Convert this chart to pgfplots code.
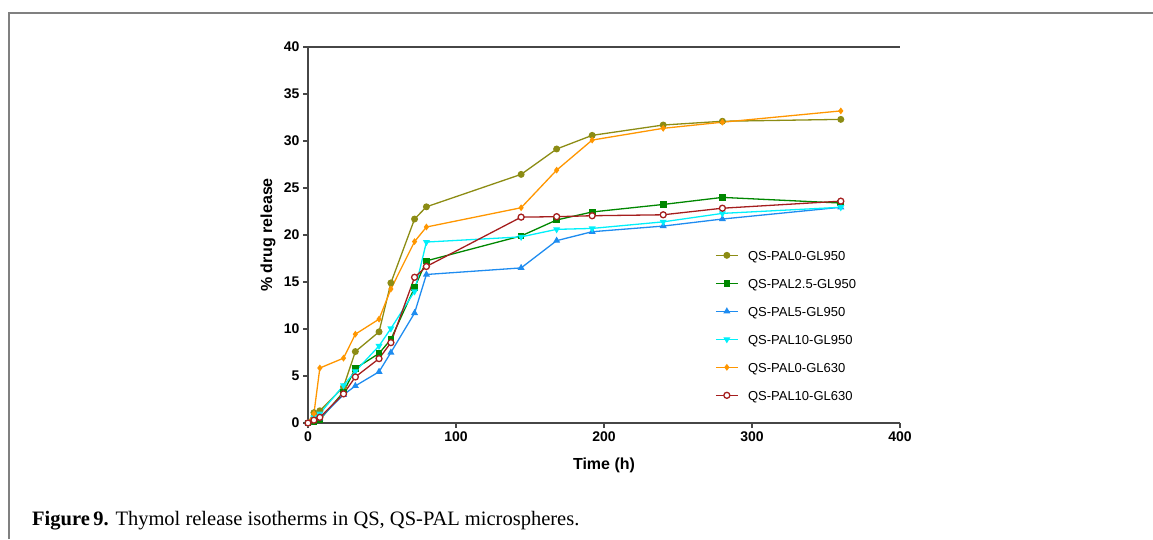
\documentclass[border=0pt]{standalone}
\usepackage{fontspec}
\setmainfont{Liberation Sans}
\newfontfamily\capfont{Liberation Serif}
\usepackage{pgfplots}
\pgfplotsset{compat=1.18}
\definecolor{cOlive}{RGB}{140,140,20}
\definecolor{cGreen}{RGB}{0,135,0}
\definecolor{cBlue}{RGB}{30,140,240}
\definecolor{cCyan}{RGB}{0,240,250}
\definecolor{cOrange}{RGB}{255,150,0}
\definecolor{cRed}{RGB}{165,30,30}
\definecolor{cAxis}{RGB}{70,70,70}
\definecolor{cFrame}{RGB}{128,128,128}
\begin{document}
\begin{tikzpicture}[x=1pt,y=1pt]
\path[use as bounding box] (0,0) rectangle (1153,539);
\draw[line width=2pt, color=cFrame] (8.7,0) -- (8.7,526) -- (1153,526);
\node[anchor=base west, inner sep=0pt] at (32,14) {\capfont\fontsize{20.5}{22}\selectfont\textbf{Figure\,9.} Thymol release isotherms in QS, QS-PAL microspheres.};
\begin{axis}[
  at={(308pt,116pt)}, anchor=south west,
  scale only axis, width=592pt, height=376pt,
  xmin=0, xmax=400, ymin=0, ymax=40,
  axis x line*=bottom, axis y line*=left,
  axis line style={line width=2pt, color=cAxis},
  xtick={0,100,200,300,400}, ytick={0,5,10,15,20,25,30,35,40},
  tick align=outside, major tick length=5pt,
  tick style={line width=1.5pt, color=cAxis},
  /pgf/number format/assume math mode=true,
  ticklabel style={font=\fontsize{14}{16}\selectfont\bfseries},
  xlabel={Time (h)}, ylabel={\% drug release},
  every axis x label/.style={at={(axis description cs:0.5,-0.1117)}, anchor=center, font=\fontsize{16}{18}\selectfont\bfseries},
  every axis y label/.style={at={(axis description cs:-0.0676,0.5)}, anchor=center, rotate=90, font=\fontsize{16}{18}\selectfont\bfseries},
  legend style={at={(rel axis cs:0.6875,0.459)}, anchor=north west, draw=none, fill=none,
    inner sep=0pt, font=\fontsize{13}{15}\selectfont, row sep=18.6pt,
    nodes={inner sep=0pt, text height=9.4pt, text depth=0pt},
    /tikz/every odd column/.append style={column sep=9.5pt}},
  legend cell align=left,
  legend image code/.code={\path[draw=none] (0pt,-4.7pt) rectangle (22pt,4.7pt);
    \draw[#1, mark repeat=2, mark phase=2] plot coordinates {(0pt,0pt) (11pt,0pt) (22pt,0pt)};},
  every axis plot/.append style={line width=1.3pt},
  clip=false,
]
\addplot[color=cOlive, mark=*, mark size=2.8pt] coordinates {
(0,0) (4,1.1) (8,1.3) (24,3.85) (32,7.6) (48,9.7) (56,14.9) (72,21.7) (80,23.0)
(144,26.45) (168,29.15) (192,30.6) (240,31.7) (280,32.1) (360,32.3)};
\addlegendentry{QS-PAL0-GL950}
\addplot[color=cGreen, mark=square*, mark size=2.7pt] coordinates {
(0,0) (4,0.1) (8,0.35) (24,3.3) (32,5.8) (48,7.4) (56,8.9) (72,14.4) (80,17.25)
(144,19.9) (168,21.6) (192,22.45) (240,23.25) (280,24.0) (360,23.4)};
\addlegendentry{QS-PAL2.5-GL950}
\addplot[color=cBlue, mark=triangle*, mark size=2.8pt] coordinates {
(0,0) (4,0.5) (8,0.5) (24,3.0) (32,3.95) (48,5.45) (56,7.5) (72,11.7) (80,15.8)
(144,16.5) (168,19.4) (192,20.35) (240,20.95) (280,21.7) (360,22.95)};
\addlegendentry{QS-PAL5-GL950}
\addplot[color=cCyan, mark=triangle*, mark size=2.8pt, mark options={rotate=180}] coordinates {
(0,0) (4,0.6) (8,1.0) (24,4.0) (32,5.5) (48,8.2) (56,10.05) (72,14.0) (80,19.25)
(144,19.8) (168,20.6) (192,20.7) (240,21.4) (280,22.3) (360,22.95)};
\addlegendentry{QS-PAL10-GL950}
\addplot[color=cOrange, mark=diamond*, mark size=2.4pt] coordinates {
(0,0) (4,1.0) (8,5.85) (24,6.9) (32,9.45) (48,11.05) (56,14.25) (72,19.3) (80,20.85)
(144,22.9) (168,26.9) (192,30.1) (240,31.35) (280,32.0) (360,33.2)};
\addlegendentry{QS-PAL0-GL630}
\addplot[color=cRed, mark=*, mark size=3pt, mark options={fill=white, line width=1.3pt}] coordinates {
(0,0) (4,0.3) (8,0.6) (24,3.1) (32,4.9) (48,6.85) (56,8.55) (72,15.5) (80,16.65)
(144,21.9) (168,21.95) (192,22.05) (240,22.15) (280,22.85) (360,23.6)};
\addlegendentry{QS-PAL10-GL630}
\draw[line width=2pt, color=cAxis] (rel axis cs:0,1) -- (rel axis cs:1,1);
\end{axis}
\end{tikzpicture}
\end{document}
